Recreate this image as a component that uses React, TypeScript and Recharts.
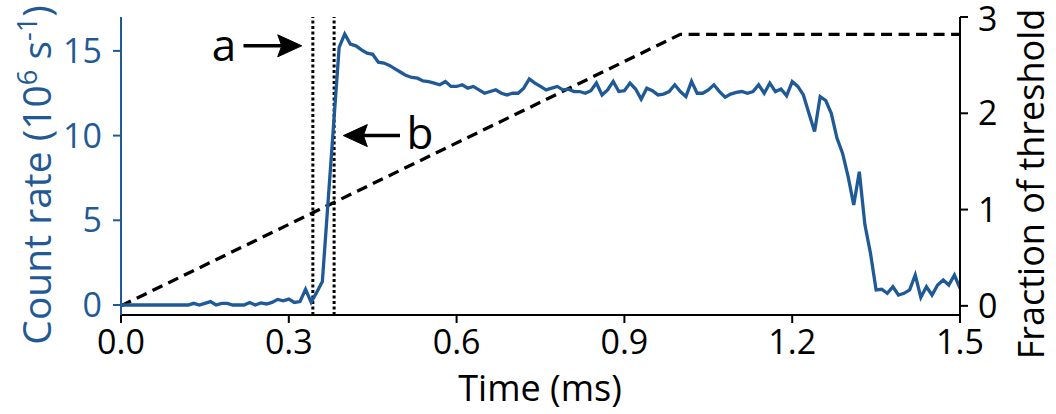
import React from 'react';
import { LineChart, Line, XAxis, YAxis, ReferenceLine, ReferenceDot, Label } from 'recharts';

const times = [
  0, 0.01, 0.02, 0.03, 0.04, 0.05, 0.06, 0.07, 0.08, 0.09,
  0.1, 0.11, 0.12, 0.13, 0.14, 0.15, 0.16, 0.17, 0.18, 0.19,
  0.2, 0.21, 0.22, 0.23, 0.24, 0.25, 0.26, 0.27, 0.28, 0.29,
  0.3, 0.31, 0.32, 0.33, 0.34, 0.35, 0.36, 0.37, 0.38, 0.39,
  0.4, 0.41, 0.42, 0.43, 0.44, 0.45, 0.46, 0.47, 0.48, 0.49,
  0.5, 0.51, 0.52, 0.53, 0.54, 0.55, 0.56, 0.57, 0.58, 0.59,
  0.6, 0.61, 0.62, 0.63, 0.64, 0.65, 0.66, 0.67, 0.68, 0.69,
  0.7, 0.71, 0.72, 0.73, 0.74, 0.75, 0.76, 0.77, 0.78, 0.79,
  0.8, 0.81, 0.82, 0.83, 0.84, 0.85, 0.86, 0.87, 0.88, 0.89,
  0.9, 0.91, 0.92, 0.93, 0.94, 0.95, 0.96, 0.97, 0.98, 0.99,
  1.0, 1.01, 1.02, 1.03, 1.04, 1.05, 1.06, 1.07, 1.08, 1.09,
  1.1, 1.11, 1.12, 1.13, 1.14, 1.15, 1.16, 1.17, 1.18, 1.19,
  1.2, 1.21, 1.22, 1.23, 1.24, 1.25, 1.26, 1.27, 1.28, 1.29,
  1.3, 1.31, 1.32, 1.33, 1.34, 1.35, 1.36, 1.37, 1.38, 1.39,
  1.4, 1.41, 1.42, 1.43, 1.44, 1.45, 1.46, 1.47, 1.48, 1.49,
  1.5,
];

const countRate = [
  0, 0, 0, 0, 0, 0, 0, 0, 0, 0,
  0, 0, 0, 0.1, 0, 0.1, 0.2, 0, 0.1, 0.1,
  0, 0, 0, 0.15, 0, 0.12, 0.06, 0.15, 0.33, 0.25,
  0.35, 0.15, 0.2, 0.93, 0.16, 0.75, 1.38, 6.0, 10.6, 15.2,
  16.0, 15.4, 15.3, 15.06, 14.87, 14.8, 14.33, 14.28, 14.14, 13.94,
  13.74, 13.54, 13.43, 13.39, 13.23, 13.19, 13.1, 13.0, 13.19, 12.9,
  12.9, 13.0, 12.8, 12.9, 12.7, 12.5, 12.6, 12.7, 12.5, 12.4,
  12.5, 12.5, 12.8, 13.35, 13.1, 12.9, 12.7, 12.8, 12.9, 12.7,
  12.74, 12.6, 12.6, 12.5, 12.65, 13.1, 12.4, 12.7, 13.2, 12.6,
  12.65, 13.1, 12.75, 12.15, 12.8, 12.65, 12.4, 12.45, 12.6, 13.0,
  12.6, 12.3, 13.2, 12.5, 12.5, 12.7, 13.0, 12.6, 12.27, 12.45,
  12.55, 12.6, 12.5, 12.6, 13.0, 12.5, 13.1, 12.6, 12.75, 12.35,
  13.19, 12.9, 12.4, 11.3, 10.24, 12.3, 12.07, 11.3, 9.85, 8.96,
  7.58, 5.9, 7.87, 4.73, 3.05, 0.89, 0.93, 0.69, 1.08, 0.59,
  0.69, 0.89, 1.77, 0.45, 1.08, 0.59, 1.18, 1.48, 1.18, 1.77,
  0.98,
];

const thresholdTimes = [0, 1.0, 1.5];
const thresholdFraction = [0, 2.82, 2.82];

const markerTimes = [0.343, 0.381];
const markerLabels = ['a', 'b'];

const xTicks = [0, 0.3, 0.6, 0.9, 1.2, 1.5];
const leftTicks = [0, 5, 10, 15];
const rightTicks = [0, 1, 2, 3];

const BLUE = '#1f5a96';
const FONT = '"Open Sans", "Noto Sans", sans-serif';

const countData = times.map((t, i) => ({ t, c: countRate[i] }));
const thresholdData = thresholdTimes.map((t, i) => ({ t, f: thresholdFraction[i] }));

const ArrowHead = (dir: number) => (props: any) => {
  const { cx, cy } = props;
  const L = 24;
  const W = 11;
  const pts = `${cx},${cy} ${cx - dir * L},${cy - W} ${cx - dir * L + dir * 4},${cy} ${cx - dir * L},${cy + W}`;
  return <polygon points={pts} fill="#000" stroke="#000" strokeWidth={1} />;
};

const TextShape = (txt: string) => (props: any) => {
  const { cx, cy } = props;
  return (
    <text x={cx} y={cy} textAnchor="middle" dominantBaseline="central" fontSize={44} fill="#000" fontFamily={FONT}>
      {txt}
    </text>
  );
};

export default function App() {
  return (
    <div style={{ position: 'fixed', left: 0, top: 0, width: 1056, height: 414, background: '#fff', fontFamily: FONT }}>
      <LineChart width={1056} height={414} margin={{ top: 17, right: 0, bottom: 0, left: 0 }}>
        <XAxis
          dataKey="t"
          type="number"
          domain={[0, 1.5]}
          ticks={xTicks}
          tickFormatter={(v: number) => v.toFixed(1)}
          allowDataOverflow
          height={99}
          tickSize={8}
          tickMargin={7}
          axisLine={{ stroke: '#000', strokeWidth: 2 }}
          tickLine={{ stroke: '#000', strokeWidth: 2 }}
          tick={{ fill: '#000', fontSize: 34 }}
        >
          <Label
            content={() => (
              <text x={540} y={401} textAnchor="middle" fontSize={36} fill="#000" fontFamily={FONT}>
                Time (ms)
              </text>
            )}
          />
        </XAxis>
        <XAxis
          xAxisId="top"
          orientation="top"
          type="number"
          domain={[0, 1.5]}
          height={0}
          tick={false}
          tickLine={false}
          axisLine={{ stroke: '#000', strokeWidth: 2 }}
        />
        <YAxis
          yAxisId="left"
          type="number"
          domain={[-0.59, 17.0]}
          ticks={leftTicks}
          allowDataOverflow
          width={121}
          tickSize={8}
          tickMargin={11}
          axisLine={{ stroke: BLUE, strokeWidth: 2 }}
          tickLine={{ stroke: BLUE, strokeWidth: 2 }}
          tick={{ fill: BLUE, fontSize: 34 }}
        >
          <Label
            content={() => (
              <text x={51} y={175} transform="rotate(-90 51 175)" textAnchor="middle" fontSize={39} fill={BLUE} fontFamily={FONT}>
                Count rate (10<tspan dy={-14} fontSize={27}>6</tspan>
                <tspan dy={14}> s</tspan>
                <tspan dy={-14} fontSize={27}>-1</tspan>
                <tspan dy={14}>)</tspan>
              </text>
            )}
          />
        </YAxis>
        <YAxis
          yAxisId="right"
          orientation="right"
          type="number"
          domain={[-0.095, 3.0]}
          ticks={rightTicks}
          allowDataOverflow
          width={96}
          tickSize={8}
          tickMargin={10}
          axisLine={{ stroke: '#000', strokeWidth: 2 }}
          tickLine={{ stroke: '#000', strokeWidth: 2 }}
          tick={{ fill: '#000', fontSize: 34 }}
        >
          <Label
            content={() => (
              <text x={1044} y={184} transform="rotate(-90 1044 184)" textAnchor="middle" fontSize={36} fill="#000" fontFamily={FONT}>
                Fraction of threshold
              </text>
            )}
          />
        </YAxis>

        {markerTimes.map((m) => (
          <ReferenceLine key={m} x={m} yAxisId="left" stroke="#000" strokeWidth={3} strokeDasharray="3 2.5" />
        ))}

        <Line
          data={thresholdData}
          dataKey="f"
          yAxisId="right"
          type="linear"
          stroke="#000"
          strokeWidth={3.3}
          strokeDasharray="11 6.5"
          dot={false}
          activeDot={false}
          isAnimationActive={false}
        />
        <Line
          data={countData}
          dataKey="c"
          yAxisId="left"
          type="linear"
          stroke={BLUE}
          strokeWidth={3.3}
          dot={false}
          activeDot={false}
          isAnimationActive={false}
        />

        <ReferenceLine
          yAxisId="left"
          segment={[{ x: 0.219, y: 15.3 }, { x: 0.31, y: 15.3 }]}
          stroke="#000"
          strokeWidth={3.5}
        />
        <ReferenceDot yAxisId="left" x={0.3231} y={15.3} shape={ArrowHead(1)} />
        <ReferenceDot yAxisId="left" x={0.184} y={15.4} shape={TextShape(markerLabels[0])} />

        <ReferenceLine
          yAxisId="left"
          segment={[{ x: 0.41, y: 10.0 }, { x: 0.4988, y: 10.0 }]}
          stroke="#000"
          strokeWidth={3.5}
        />
        <ReferenceDot yAxisId="left" x={0.3975} y={10.0} shape={ArrowHead(-1)} />
        <ReferenceDot yAxisId="left" x={0.5346} y={10.2} shape={TextShape(markerLabels[1])} />
      </LineChart>
    </div>
  );
}
